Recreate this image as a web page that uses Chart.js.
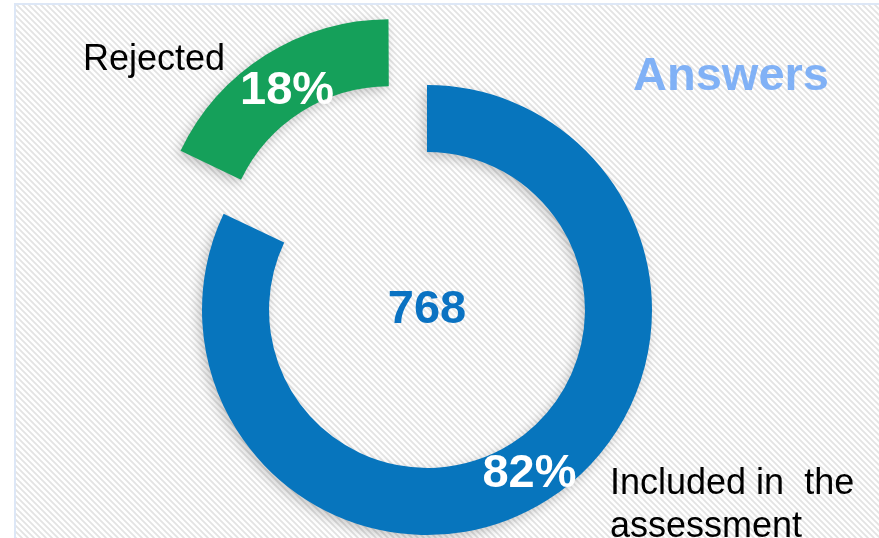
<!DOCTYPE html>
<html>
<head>
<meta charset="utf-8">
<script src="https://cdn.jsdelivr.net/npm/chart.js@4.4.0/dist/chart.umd.min.js"></script>
<style>
html, body { margin: 0; padding: 0; background: #fff; }
</style>
</head>
<body>
<canvas id="myChart" width="879" height="538"></canvas>
<script>
const categories = ['Included in the assessment', 'Rejected'];
const answers = [630, 138];
const sliceColors = ['#0775bd', '#15a05a'];
const sliceOffsets = [0, 280];
const title = 'Answers';

const total = answers.reduce((a, b) => a + b, 0);

// striped backdrop with light blue frame
const stripes = document.createElement('canvas');
stripes.width = 6;
stripes.height = 6;
const sctx = stripes.getContext('2d');
sctx.fillStyle = '#ffffff';
sctx.fillRect(0, 0, 6, 6);
sctx.strokeStyle = '#e3e3e3';
sctx.lineWidth = 1.8;
sctx.beginPath();
sctx.moveTo(-3, -3); sctx.lineTo(9, 9);
sctx.moveTo(-3, 3); sctx.lineTo(3, 9);
sctx.moveTo(3, -3); sctx.lineTo(9, 3);
sctx.stroke();

const backdrop = {
    id: 'backdrop',
    beforeDraw(chart) {
        const ctx = chart.ctx;
        ctx.save();
        ctx.fillStyle = '#ffffff';
        ctx.fillRect(0, 0, chart.width, chart.height);
        ctx.fillStyle = ctx.createPattern(stripes, 'repeat');
        ctx.fillRect(16, 5, chart.width - 16, chart.height - 5);
        ctx.strokeStyle = '#dde7f6';
        ctx.lineWidth = 2;
        ctx.beginPath();
        ctx.moveTo(15, chart.height);
        ctx.lineTo(15, 4);
        ctx.lineTo(chart.width, 4);
        ctx.stroke();
        ctx.restore();
    }
};

const ringShadow = {
    id: 'ringShadow',
    beforeDatasetsDraw(chart) {
        const ctx = chart.ctx;
        ctx.save();
        ctx.shadowColor = 'rgba(0,0,0,0.22)';
        ctx.shadowBlur = 12;
        ctx.shadowOffsetX = -3;
        ctx.shadowOffsetY = 4;
    },
    afterDatasetsDraw(chart) {
        chart.ctx.restore();
    }
};

const labels = {
    id: 'labels',
    afterDraw(chart) {
        const ctx = chart.ctx;
        const meta = chart.getDatasetMeta(0);
        ctx.save();
        ctx.textAlign = 'center';
        ctx.textBaseline = 'middle';
        ctx.font = 'bold 47px "Liberation Sans", Arial, sans-serif';
        meta.data.forEach((arc, i) => {
            const p = arc.getProps(['x', 'y', 'startAngle', 'endAngle', 'innerRadius', 'outerRadius'], true);
            const mid = (p.startAngle + p.endAngle) / 2;
            const r = (p.innerRadius + p.outerRadius) / 2 + sliceOffsets[i] / 4;
            ctx.fillStyle = '#ffffff';
            ctx.fillText(Math.round(answers[i] / total * 100) + '%', p.x + Math.cos(mid) * r, p.y + Math.sin(mid) * r + 2);
        });
        const c = meta.data[0];
        ctx.fillStyle = '#0a72c2';
        ctx.fillText(String(total), c.x, c.y);

        ctx.fillStyle = '#80b1f6';
        ctx.font = 'bold 47px "Liberation Sans", Arial, sans-serif';
        ctx.textBaseline = 'alphabetic';
        ctx.fillText(title, 731, 90);

        ctx.fillStyle = '#000000';
        ctx.textAlign = 'left';
        ctx.font = '36px "Liberation Sans", Arial, sans-serif';
        ctx.fillText(categories[1], 83, 70);
        ctx.fillText('Included in  the', 610, 494);
        ctx.fillText('assessment', 610, 537);
        ctx.restore();
    }
};

const ctx = document.getElementById('myChart').getContext('2d');
new Chart(ctx, {
    type: 'doughnut',
    data: {
        labels: categories,
        datasets: [{
            data: answers,
            backgroundColor: sliceColors,
            offset: sliceOffsets,
            borderWidth: 0
        }]
    },
    options: {
        responsive: false,
        animation: false,
        radius: 225,
        cutout: '70.2%',
        layout: {
            padding: { left: 0, right: 25, top: 82, bottom: 0 }
        },
        plugins: {
            legend: { display: false },
            tooltip: { enabled: false }
        }
    },
    plugins: [backdrop, ringShadow, labels]
});
</script>
</body>
</html>
